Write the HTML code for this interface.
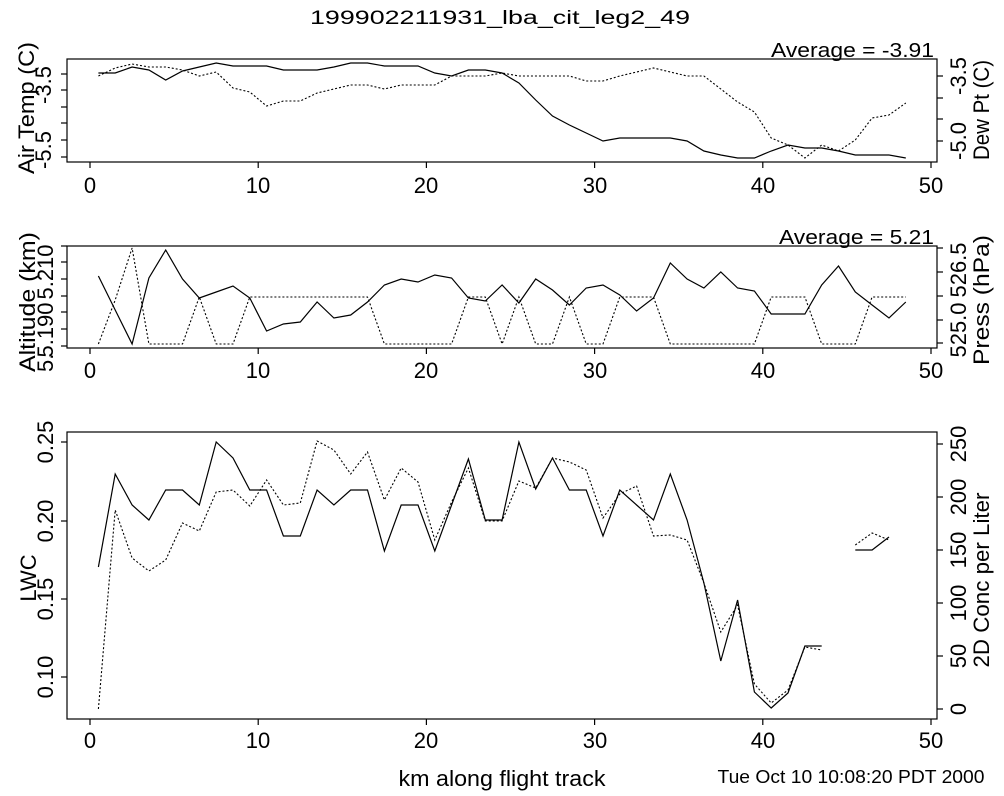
<!DOCTYPE html>
<html><head><meta charset="utf-8"><style>
html,body{margin:0;padding:0;background:#fff;}
svg{display:block;font-family:"Liberation Sans",sans-serif;}
</style></head><body>
<svg id="s" width="1004" height="796" viewBox="0 0 1004 796" xmlns="http://www.w3.org/2000/svg">
<rect width="1004" height="796" fill="#fff"/>
<text x="500" y="24" font-size="19" text-anchor="middle" textLength="380" lengthAdjust="spacingAndGlyphs">199902211931_lba_cit_leg2_49</text>
<g fill="none" stroke="#000" stroke-width="1.2">
<rect x="67" y="59" width="870" height="103"/>
<rect x="67" y="246" width="870" height="102"/>
<rect x="67" y="432" width="870" height="287"/>
</g>
<g id="ticks" stroke="#000" stroke-width="1.2"></g>
<g id="lines" fill="none" stroke="#000"></g>
<g font-size="22" text-anchor="middle">
<text x="90" y="193">0</text><text x="258" y="193">10</text><text x="426" y="193">20</text><text x="595" y="193">30</text><text x="763" y="193">40</text><text x="931" y="193">50</text>
<text x="90" y="378">0</text><text x="258" y="378">10</text><text x="426" y="378">20</text><text x="595" y="378">30</text><text x="763" y="378">40</text><text x="931" y="378">50</text>
<text x="90" y="748">0</text><text x="258" y="748">10</text><text x="426" y="748">20</text><text x="595" y="748">30</text><text x="763" y="748">40</text><text x="931" y="748">50</text>
</g>
<g font-size="20" text-anchor="end">
<text x="934" y="57" textLength="163" lengthAdjust="spacingAndGlyphs">Average = -3.91</text>
<text x="934" y="244" textLength="155" lengthAdjust="spacingAndGlyphs">Average = 5.21</text>
</g>
<g font-size="22" text-anchor="middle" lengthAdjust="spacingAndGlyphs">
<text transform="translate(34,108) rotate(-90)" textLength="132" lengthAdjust="spacingAndGlyphs">Air Temp (C)</text>
<text transform="translate(51,85) rotate(-90)">-3.5</text>
<text transform="translate(51,150) rotate(-90)">-5.5</text>
<text transform="translate(966,76) rotate(-90)">-3.5</text>
<text transform="translate(966,141) rotate(-90)">-5.0</text>
<text transform="translate(989,110) rotate(-90)" textLength="100" lengthAdjust="spacingAndGlyphs">Dew Pt (C)</text>

<text transform="translate(35,302) rotate(-90)" textLength="140" lengthAdjust="spacingAndGlyphs">Altitude (km)</text>
<text transform="translate(53,272) rotate(-90)">5.210</text>
<text transform="translate(53,330) rotate(-90)">5.190</text>
<text transform="translate(53,372) rotate(-90)" text-anchor="start">5.</text>
<text transform="translate(966,270) rotate(-90)">526.5</text>
<text transform="translate(966,330) rotate(-90)">525.0</text>
<text transform="translate(989,300) rotate(-90)" textLength="130" lengthAdjust="spacingAndGlyphs">Press (hPa)</text>

<text transform="translate(36,578) rotate(-90)">LWC</text>
<text transform="translate(53,442) rotate(-90)">0.25</text>
<text transform="translate(53,521) rotate(-90)">0.20</text>
<text transform="translate(53,599) rotate(-90)">0.15</text>
<text transform="translate(53,677) rotate(-90)">0.10</text>
<text transform="translate(966,444) rotate(-90)">250</text>
<text transform="translate(966,497) rotate(-90)">200</text>
<text transform="translate(966,550) rotate(-90)">150</text>
<text transform="translate(966,603) rotate(-90)">100</text>
<text transform="translate(966,656) rotate(-90)">50</text>
<text transform="translate(966,709) rotate(-90)">0</text>
<text transform="translate(989,580) rotate(-90)" textLength="175" lengthAdjust="spacingAndGlyphs">2D Conc per Liter</text>
</g>
<text x="502" y="786" font-size="22" text-anchor="middle" textLength="207" lengthAdjust="spacingAndGlyphs">km along flight track</text>
<text x="851" y="783" font-size="18" text-anchor="middle" textLength="267" lengthAdjust="spacingAndGlyphs">Tue Oct 10 10:08:20 PDT 2000</text>
</svg>
<script>
var NS="http://www.w3.org/2000/svg";
function X(k){return 90+16.82*k;}
function el(p,t,a){var e=document.createElementNS(NS,t);for(var k in a)e.setAttribute(k,a[k]);document.getElementById(p).appendChild(e);}
function line(arr,dash,start){start=start||0.5;var segs=[[]];arr.forEach(function(v,i){if(v==null){segs.push([]);return;}segs[segs.length-1].push(X(start+i).toFixed(1)+","+v);});
segs.forEach(function(s){if(s.length>1)el("lines","polyline",{points:s.join(" "),"stroke-width":dash?1.1:1.2,"stroke-dasharray":dash?"2,2":"none"});});}
[[162,168],[348,354],[719,725]].forEach(function(b){for(var k=0;k<=50;k+=10)el("ticks","line",{x1:X(k),x2:X(k),y1:b[0],y2:b[1]});});
function yt(x1,x2,ys){ys.forEach(function(y){el("ticks","line",{x1:x1,x2:x2,y1:y,y2:y});});}
yt(61,67,[74,90,107,123,140,157]);yt(937,943,[76,98,119,141]);
yt(61,67,[246,262,279,296,312,329,346]);yt(937,943,[248,272,296,320,343]);
yt(61,67,[442,521,599,677]);yt(937,943,[444,497,550,603,656,709]);
line([73,73,67,70,80,71,67,63,66,66,66,70,70,70,67,63,63,66,66,66,73,76,70,70,73,83,100,116,125,133,141,138,138,138,138,141,151,155,158,158,151,145,148,148,151,155,155,155,158]);
line([76,68,64,67,67,70,76,72,88,92,106,101,101,93,89,85,85,89,85,85,85,76,76,76,73,76,76,76,76,81,81,76,72,68,72,76,76,89,102,112,138,145,158,145,151,140,118,115,103],true);
line([276,310,344,278,250,279,298,292,286,298,331,324,322,302,318,315,302,285,279,282,275,278,298,301,285,303,279,290,305,288,285,295,311,298,263,279,288,272,288,291,314,314,314,285,266,292,305,318,302]);
line([344,300,248,344,344,344,297,344,344,297,297,297,297,297,297,297,297,344,344,344,344,344,297,297,344,297,344,344,297,344,344,297,297,297,344,344,344,344,344,344,297,297,297,344,344,344,297,297,297],true);
line([567,474,505,520,490,490,505,442,458,490,490,536,536,490,505,490,490,551,505,505,551,505,459,520,520,442,489,458,490,490,536,490,505,520,474,520,583,661,600,692,708,693,646,646,null,550,550,537]);
line([709,510,558,571,560,523,531,492,490,506,480,505,503,441,450,474,452,500,468,482,540,502,468,521,521,481,488,458,462,470,518,494,486,536,535,540,583,632,605,684,703,690,647,650,null,545,533,540],true);
</script>
</body></html>
